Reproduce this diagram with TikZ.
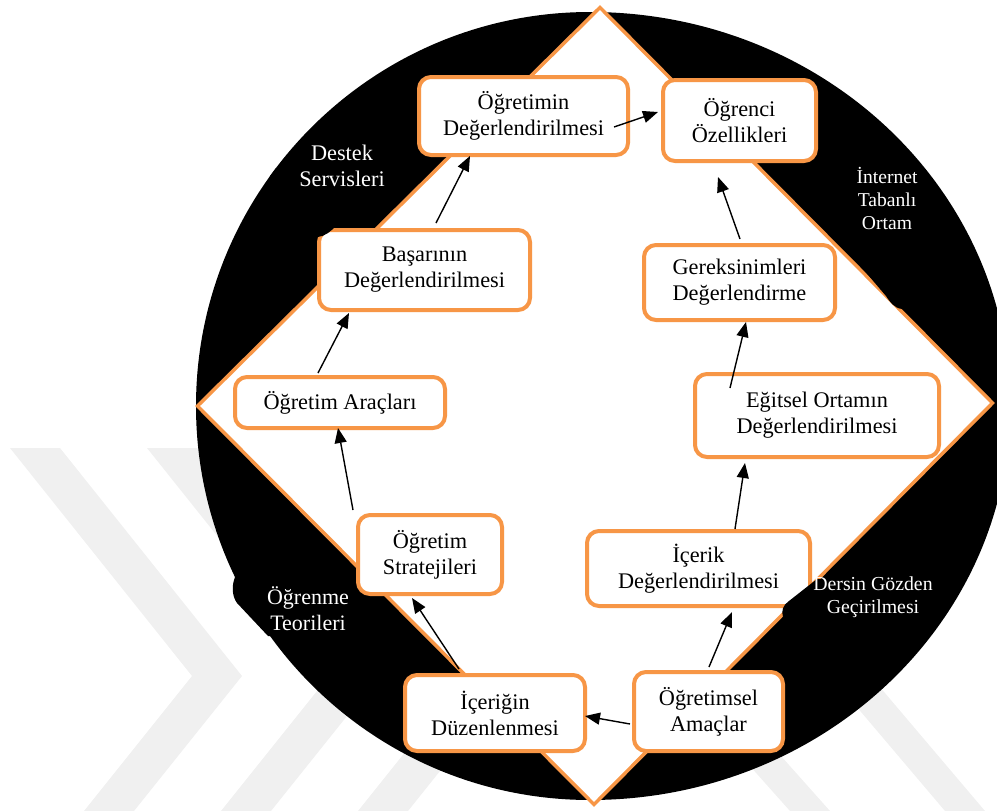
\documentclass[tikz,border=0pt]{standalone}
\usepackage{fontspec}
\setmainfont{Liberation Serif}
\usetikzlibrary{arrows.meta,calc}
\definecolor{org}{HTML}{F79646}
\definecolor{wm}{gray}{0.94}
\begin{document}
\begin{tikzpicture}[x=1pt,y=-1pt,
  box/.style={draw=org, line width=4pt, fill=white, rounded corners=12pt, align=center,
    font=\fontsize{22.3}{26}\selectfont, inner sep=0pt, text=black},
  lbl/.style={text=white, align=center, inner sep=0pt},
  arr/.style={line width=1.4pt, black, -{Triangle[length=15pt,width=12pt]}},
  blob/.style={fill=black}]
\useasboundingbox (0,0) rectangle (997,811);
% watermark
\fill[wm] (10,448) -- (60,448) -- (242,676) -- (134,811) -- (84,811) -- (192,676) -- cycle;
\fill[wm] (147,448) -- (197,448) -- (379,676) -- (271,811) -- (221,811) -- (329,676) -- cycle;
\fill[wm] (284,448) -- (334,448) -- (516,676) -- (408,811) -- (358,811) -- (466,676) -- cycle;
\fill[wm] (800,640) -- (840,640) -- (985,811) -- (945,811) -- cycle;
\fill[wm] (700,710) -- (740,710) -- (830,811) -- (790,811) -- cycle;
% black ring
\fill[black] (590,12) arc[start angle=90, end angle=270, radius=394pt]
  arc[start angle=270, end angle=450, x radius=420pt, y radius=394pt] -- cycle;
\fill[blob] (238,568) -- (234,580) .. controls (232,587) and (232,596) .. (237,603)
  -- (268,636) -- (290,636) -- (290,568) -- cycle;
\fill[blob] (276,168) -- (270,176) -- (268,185) -- (300,185) -- (300,168) -- cycle;
% diamond
\draw[org, line width=3.5pt, fill=white, line join=miter]
  (600,7.5) -- (992.5,403) -- (594,804.5) -- (197.5,406) -- cycle;
% boxes
\node[box, minimum width=209pt, minimum height=78pt] (b1) at (523.5,116) {Öğretimin\\Değerlendirilmesi};
\node[box, minimum width=153pt, minimum height=81pt] (b2) at (739.5,120.5) {Öğrenci\\Özellikleri};
\node[box, minimum width=191pt, minimum height=75pt] (b3) at (739.5,282.5) {Gereksinimleri\\Değerlendirme};
\node[box, minimum width=244pt, minimum height=83pt] (b4) at (817,415.5) {Eğitsel Ortamın\\Değerlendirilmesi};
\node[box, minimum width=223pt, minimum height=75pt] (b5) at (698.5,568.5) {İçerik\\Değerlendirilmesi};
\node[box, minimum width=149pt, minimum height=79pt] (b6) at (708.5,711.5) {Öğretimsel\\Amaçlar};
\node[box, minimum width=180pt, minimum height=76pt] (b7) at (495,713) {İçeriğin\\Düzenlenmesi};
\node[box, minimum width=144pt, minimum height=79pt] (b8) at (430,554.5) {Öğretim\\Stratejileri};
\node[box, minimum width=210pt, minimum height=51pt] (b9) at (340,402.5) {Öğretim Araçları};
\node[box, minimum width=211pt, minimum height=80pt] (b10) at (424.5,270) {Başarının\\Değerlendirilmesi};
% label shapes overlapping
\fill[blob] (862,256) -- (857,262) -- (886,296) .. controls (890,302) and (894,308) .. (902,309)
  -- (920,300) -- (885,250) -- cycle;
\fill[blob] (817,579) -- (789,601) .. controls (783,605) and (781,611) .. (783,617)
  -- (778,625) -- (830,625) -- (845,579) -- cycle;
\fill[blob] (305,237) -- (318,237) .. controls (325,236) and (330,232) .. (336,226)
  -- (336,218) -- (305,218) -- cycle;
% arrows
\draw[arr] ($(b6.west)+(-2,12.5)$) -- ($(b7.east)+(-2,3)$);
\draw[arr] ($(b7.north)+(-36,-4)$) -- ($(b8.south)+(-18,2)$);
\draw[arr] ($(b8.north)+(-77,-3)$) -- ($(b9.south)+(-2,-2)$);
\draw[arr] ($(b9.north)+(-22,-2)$) -- ($(b10.south)+(-75.5,1)$);
\draw[arr] ($(b10.north)+(11.5,-5)$) -- ($(b1.south)+(-53.5,-1)$);
\draw[arr] ($(b1.east)+(-16,11)$) -- ($(b2.west)+(-3,-8.5)$);
\draw[arr] ($(b3.north)+(0.5,-4)$) -- ($(b2.south)+(-21.5,14)$);
\draw[arr] ($(b4.north)+(-87,16)$) -- ($(b3.south)+(6.5,0)$);
\draw[arr] ($(b5.north)+(36.5,0)$) -- ($(b4.south)+(-72,4)$);
\draw[arr] ($(b6.north)+(0.5,-3)$) -- ($(b5.south)+(33.5,4)$);
% white labels
\node[lbl, font=\fontsize{22.3}{26}\selectfont] (destek) at (342,166) {Destek\\Servisleri};
\node[lbl, font=\fontsize{19.6}{23}\selectfont] (internet) at (887,199) {İnternet\\Tabanlı\\Ortam};
\node[lbl, font=\fontsize{22}{26}\selectfont] (ogrenme) at (308,609) {Öğrenme\\Teorileri};
\node[lbl, font=\fontsize{19.8}{23}\selectfont] (dersin) at (873,597) {Dersin Gözden\\Geçirilmesi};
\end{tikzpicture}
\end{document}
